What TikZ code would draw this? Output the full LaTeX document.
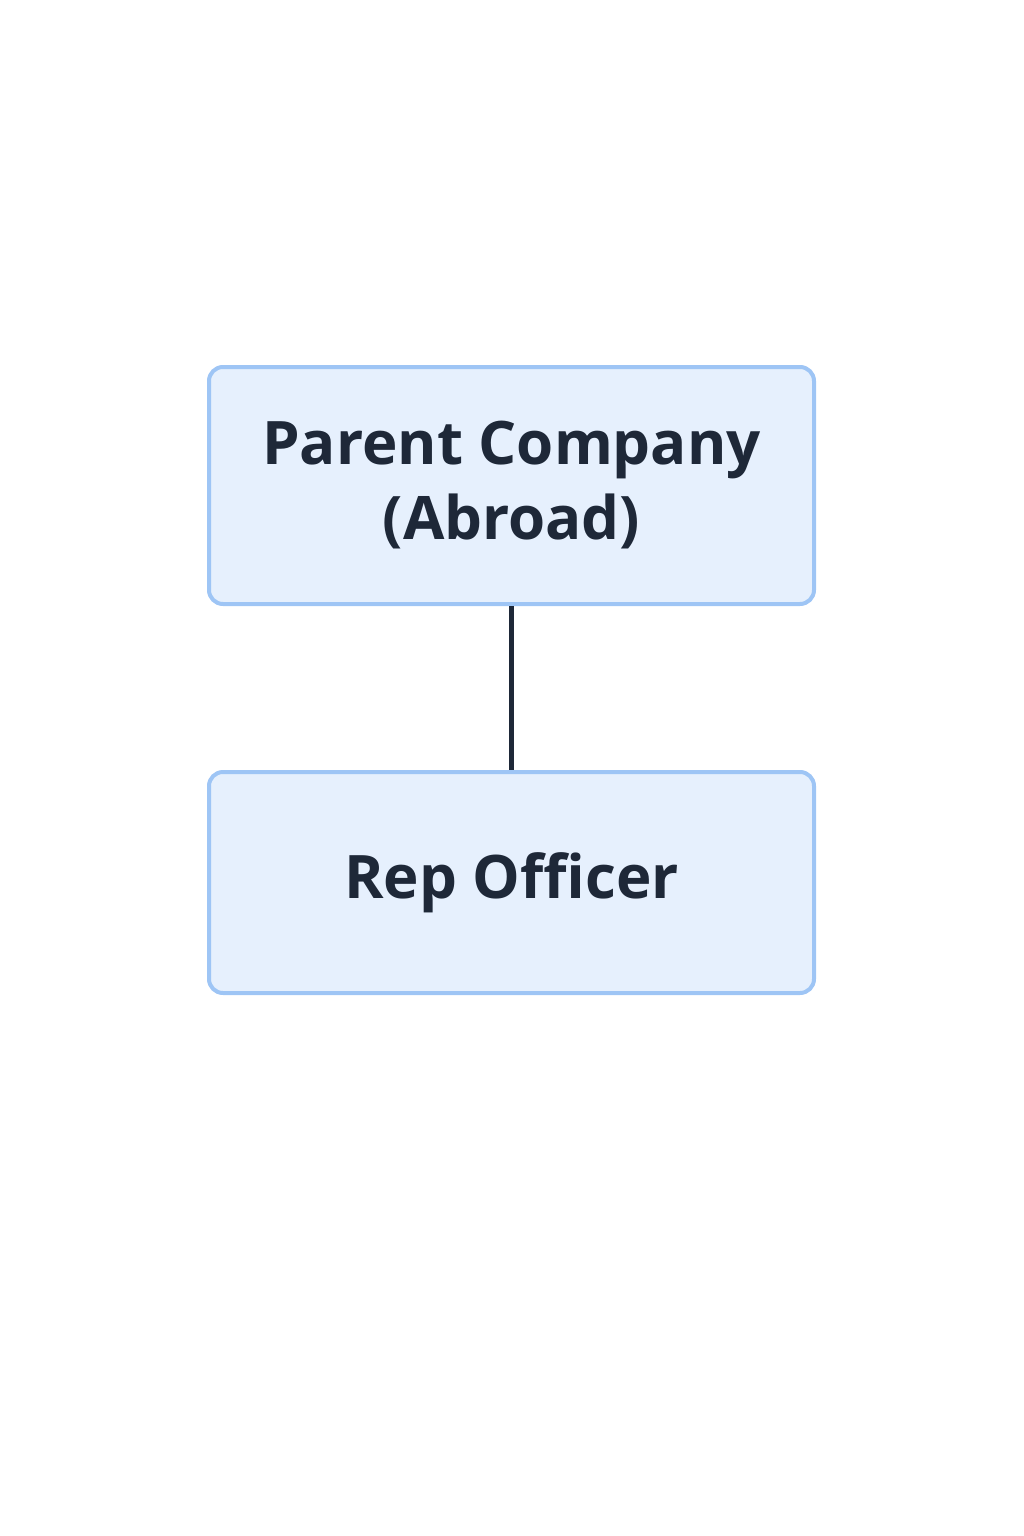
\documentclass[tikz,border=0pt]{standalone}
\usepackage{fontspec}
\setmainfont{Open Sans}
\definecolor{boxfill}{HTML}{E6F0FD}
\definecolor{boxline}{HTML}{9EC5F5}
\definecolor{ink}{HTML}{1E2838}
\begin{document}
\begin{tikzpicture}[x=1pt,y=-1pt,
  orgbox/.style={draw=boxline,fill=boxfill,line width=4pt,rounded corners=14pt,
    minimum width=605pt,text=ink,align=center,
    font=\fontsize{60}{75}\selectfont\bfseries}]
\useasboundingbox (0,0) rectangle (1024,1536);
\node[orgbox,minimum height=237pt] (parent) at (511.5,485.5) {Parent Company\\(Abroad)};
\node[orgbox,minimum height=221pt] (rep) at (511.5,882.5) {Rep Officer};
\draw[ink,line width=5pt] (parent.south) -- (rep.north);
\end{tikzpicture}
\end{document}
